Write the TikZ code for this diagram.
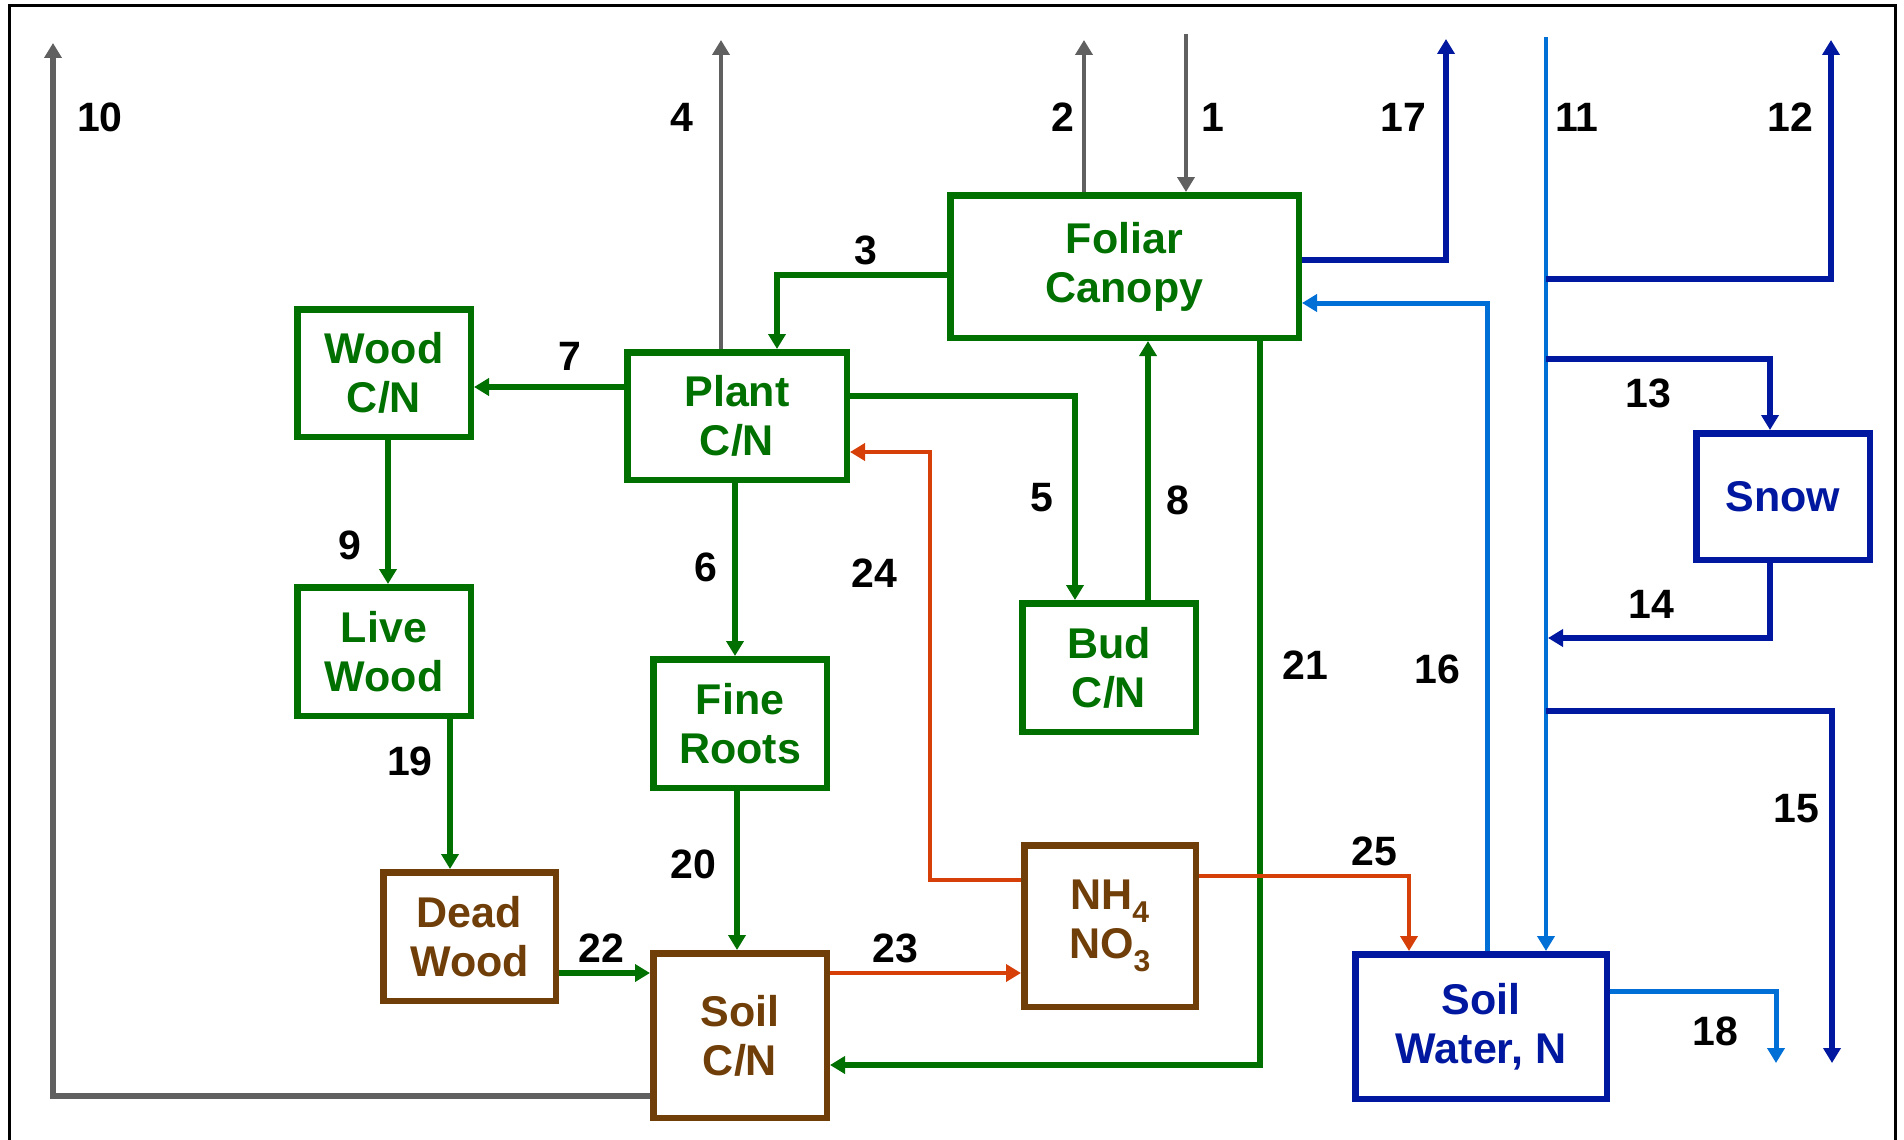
\documentclass[tikz,border=0pt]{standalone}
\usepackage{fontspec}
\setmainfont{Liberation Sans}
\usetikzlibrary{arrows.meta}
\definecolor{cgreen}{RGB}{0,112,0}
\definecolor{cbrown}{RGB}{112,62,8}
\definecolor{cred}{RGB}{214,64,8}
\definecolor{cdblue}{RGB}{0,24,160}
\definecolor{clblue}{RGB}{0,112,214}
\definecolor{cgray}{RGB}{96,96,96}
\newcommand\bxfont{\fontsize{43}{49}\selectfont\bfseries}
\newcommand\nmfont{\fontsize{41}{49}\selectfont\bfseries}
\tikzset{
  box/.style={draw, line width=6.5pt, inner sep=0pt, align=center, font=\bxfont},
  gbox/.style={box, draw=cgreen, text=cgreen},
  bbox/.style={box, draw=cbrown, text=cbrown},
  ubox/.style={box, draw=cdblue, text=cdblue},
  lab/.style={font=\nmfont, inner sep=0pt, text=black},
  arr/.style={line width=5.5pt, -{Triangle[length=15pt,width=17pt]}},
  garr/.style={arr, draw=cgreen},
  rarr/.style={arr, line width=4.5pt, draw=cred},
  darr/.style={arr, draw=cdblue},
  larr/.style={arr, line width=5pt, draw=clblue},
  grarr/.style={arr, line width=4pt, draw=cgray},
}
\begin{document}
\begin{tikzpicture}[x=1pt,y=-1pt]
\useasboundingbox (0,0) rectangle (1904,1140);
\fill[white] (0,0) rectangle (1904,1140);
% frame
\draw[line width=3pt, black] (9,1140) -- (9,6) -- (1895,6) -- (1895,1140);

% boxes
\node[gbox, minimum width=173.5pt, minimum height=127.5pt] (wood) at (384,373) {Wood\\C/N};
\node[gbox, minimum width=219.5pt, minimum height=127.5pt] (plant) at (737,416) {Plant\\C/N};
\node[gbox, minimum width=348.5pt, minimum height=142.5pt] (foliar) at (1124.5,266.5) {Foliar\\Canopy};
\node[gbox, minimum width=173.5pt, minimum height=128.5pt] (live) at (384,651.5) {Live\\Wood};
\node[gbox, minimum width=173.5pt, minimum height=128.5pt] (roots) at (740,723.5) {Fine\\Roots};
\node[gbox, minimum width=173.5pt, minimum height=128.5pt] (bud) at (1109,667.5) {Bud\\C/N};
\node[bbox, minimum width=172.5pt, minimum height=128.5pt] (dead) at (469.5,936.5) {Dead\\Wood};
\node[bbox, minimum width=173.5pt, minimum height=164.5pt] (soil) at (740,1035.5) {Soil\\C/N};
\node[bbox, minimum width=171.5pt, minimum height=161.5pt] (nh) at (1110,926) {NH\textsubscript{4}\\NO\textsubscript{3}};
\node[ubox, minimum width=251.5pt, minimum height=144.5pt] (water) at (1481,1026.5) {Soil\\Water, N};
\node[ubox, minimum width=173.5pt, minimum height=126.5pt] (snow) at (1783,496.5) {Snow};

% helper coordinates
\coordinate (t1) at (1186,34);
\coordinate (t2) at (1084,40);
\coordinate (c3) at (777,275);
\coordinate (t4) at (721,40);
\coordinate (c5) at (1075,396);
\coordinate (c6) at (735,500);
\coordinate (c7) at (500,387);
\coordinate (c8) at (1148,500);
\coordinate (c9) at (388,500);
\coordinate (c10) at (53,1096);
\coordinate (t10) at (53,43);
\coordinate (t11) at (1546,37);
\coordinate (j12) at (1546,279);
\coordinate (c12) at (1831,279);
\coordinate (t12) at (1831,40);
\coordinate (j13) at (1546,359);
\coordinate (c13) at (1770,359);
\coordinate (c14) at (1770,638);
\coordinate (j14) at (1548,638);
\coordinate (j15) at (1546,711);
\coordinate (c15) at (1832,711);
\coordinate (t15) at (1832,1063);
\coordinate (c16) at (1487,303);
\coordinate (c17) at (1446,260);
\coordinate (t17) at (1446,39);
\coordinate (c18) at (1776,991);
\coordinate (t18) at (1776,1063);
\coordinate (c19) at (450,800);
\coordinate (c20) at (737,800);
\coordinate (c21) at (1260,1065);
\coordinate (c22) at (600,973);
\coordinate (c24a) at (930,452);
\coordinate (c24b) at (930,880);
\coordinate (c25) at (1409,876);

% gray
\draw[grarr] (t1) -- (foliar.north -| t1);
\draw[grarr] (foliar.north -| t2) -- (t2);
\draw[grarr] (plant.north -| t4) -- (t4);
\draw[grarr, line width=5.5pt] (soil.west |- c10) -- (c10) -- (t10);

% green
\draw[garr] (foliar.west |- c3) -- (c3) -- (plant.north -| c3);
\draw[garr] (plant.east |- c5) -- (c5) -- (bud.north -| c5);
\draw[garr] (plant.south -| c6) -- (roots.north -| c6);
\draw[garr] (plant.west |- c7) -- (wood.east |- c7);
\draw[garr] (bud.north -| c8) -- (foliar.south -| c8);
\draw[garr] (wood.south -| c9) -- (live.north -| c9);
\draw[garr] (live.south -| c19) -- (dead.north -| c19);
\draw[garr] (roots.south -| c20) -- (soil.north -| c20);
\draw[garr] (foliar.south -| c21) -- (c21) -- (soil.east |- c21);
\draw[garr] (dead.east |- c22) -- (soil.west |- c22);

% blue
\draw[larr, line width=4pt] (t11) -- (water.north -| t11);
\draw[darr] (j12) -- (c12) -- (t12);
\draw[darr] (j13) -- (c13) -- (snow.north -| c13);
\draw[darr] (snow.south -| c14) -- (c14) -- (j14);
\draw[darr] (j15) -- (c15) -- (t15);
\draw[larr] (water.north -| c16) -- (c16) -- (foliar.east |- c16);
\draw[darr] (foliar.east |- c17) -- (c17) -- (t17);
\draw[larr] (water.east |- c18) -- (c18) -- (t18);

% red
\draw[rarr] (soil.east |- c22) -- (nh.west |- c22);
\draw[rarr] (nh.west |- c24b) -- (c24b) -- (c24a) -- (plant.east |- c24a);
\draw[rarr] (nh.east |- c25) -- (c25) -- (water.north -| c25);

% labels
\node[lab] (l10) at (100,117) {10};
\node[lab] (l4) at (682,117) {4};
\node[lab] (l2) at (1063,117) {2};
\node[lab] (l1) at (1213,117) {1};
\node[lab] (l17) at (1403,117) {17};
\node[lab] (l11) at (1577,117) {11};
\node[lab] (l12) at (1790,117) {12};
\node[lab] (l3) at (866,250) {3};
\node[lab] (l7) at (570,356) {7};
\node[lab] (l13) at (1648,393) {13};
\node[lab] (l5) at (1042,498) {5};
\node[lab] (l8) at (1178,500) {8};
\node[lab] (l9) at (350,545) {9};
\node[lab] (l6) at (706,567) {6};
\node[lab] (l24) at (874,573) {24};
\node[lab] (l14) at (1651,604) {14};
\node[lab] (l21) at (1305,665) {21};
\node[lab] (l16) at (1437,669) {16};
\node[lab] (l19) at (410,761) {19};
\node[lab] (l15) at (1796,809) {15};
\node[lab] (l25) at (1374,851) {25};
\node[lab] (l20) at (693,864) {20};
\node[lab] (l22) at (601,948) {22};
\node[lab] (l23) at (895,948) {23};
\node[lab] (l18) at (1715,1031) {18};
\end{tikzpicture}
\end{document}
